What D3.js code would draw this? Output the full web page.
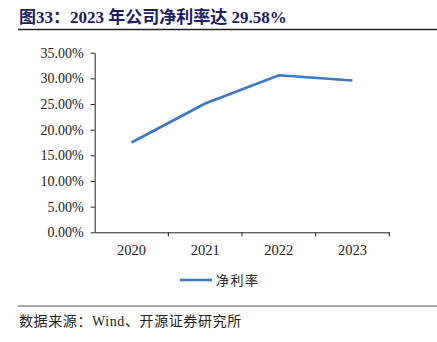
<!DOCTYPE html>
<html><head><meta charset="utf-8">
<script src="https://cdn.jsdelivr.net/npm/d3@7"></script>
<style>
html,body{margin:0;padding:0;background:#fff;}
svg{display:block;}
</style></head>
<body>
<svg id="chart" width="437" height="342"></svg>
<script>
const title = "图33：2023 年公司净利率达 29.58%";
const categories = ["2020", "2021", "2022", "2023"];
const seriesName = "净利率";
const values = [17.5, 25.1, 30.6, 29.58];
const yTicks = [0, 5, 10, 15, 20, 25, 30, 35];
const source = "数据来源：Wind、开源证券研究所";

(function () {
const svg = d3.select("#chart");
const serif = "'Liberation Serif','Times New Roman','Noto Sans CJK SC',serif";

// title
svg.append("text").attr("x", 19).attr("y", 23)
  .attr("font-family", serif).attr("font-weight", "bold").attr("font-size", 17)
  .attr("fill", "#1c1c6b").text(title);
svg.append("line").attr("x1", 18).attr("x2", 437).attr("y1", 29.5).attr("y2", 29.5)
  .attr("stroke", "#222").attr("stroke-width", 1.3);

const mLeft = 94.7, mRight = 389.3, mTop = 52.7, mBottom = 232.3;
const x = d3.scaleBand().domain(categories).range([mLeft, mRight]);
const y = d3.scaleLinear().domain([0, 35]).range([mBottom, mTop]);

const yAxis = svg.append("g").attr("transform", `translate(${mLeft},0)`)
  .call(d3.axisLeft(y).tickValues(yTicks).tickFormat(d => d.toFixed(2) + "%").tickSize(4).tickSizeOuter(0));
yAxis.selectAll("text").attr("font-family", serif).attr("font-size", 14).attr("fill", "#222").attr("dx", "-4");

const xAxis = svg.append("g").attr("transform", `translate(0,${mBottom})`)
  .call(d3.axisBottom(x).tickSize(0).tickSizeOuter(0));
xAxis.selectAll("text").attr("font-family", serif).attr("font-size", 14.5).attr("fill", "#222").attr("dy", "1.35em");
const bounds = categories.slice(1).map(c => x(c)).concat([mRight]);
xAxis.selectAll(".btick").data(bounds).enter().append("line")
  .attr("x1", d => d).attr("x2", d => d).attr("y1", 0).attr("y2", 4).attr("stroke", "#222");
svg.selectAll(".domain, .tick line").attr("stroke", "#222");

const line = d3.line().x((d, i) => x(categories[i]) + x.bandwidth() / 2).y(d => y(d));
svg.append("path").datum(values).attr("d", line)
  .attr("fill", "none").attr("stroke", "#3a78c9").attr("stroke-width", 2.6);

// legend
svg.append("line").attr("x1", 180).attr("x2", 212).attr("y1", 280).attr("y2", 280)
  .attr("stroke", "#3a78c9").attr("stroke-width", 2.6);
svg.append("text").attr("x", 216).attr("y", 285)
  .attr("font-family", "'Noto Sans CJK SC',sans-serif").attr("font-size", 13).attr("fill", "#222")
  .attr("letter-spacing", 1.5).text(seriesName);

svg.append("line").attr("x1", 18).attr("x2", 437).attr("y1", 306).attr("y2", 306)
  .attr("stroke", "#888").attr("stroke-width", 1.6);
svg.append("text").attr("x", 19).attr("y", 326)
  .attr("font-family", serif).attr("font-size", 14).attr("fill", "#222")
  .attr("letter-spacing", 0.6).text(source);
})();
</script>
</body></html>
